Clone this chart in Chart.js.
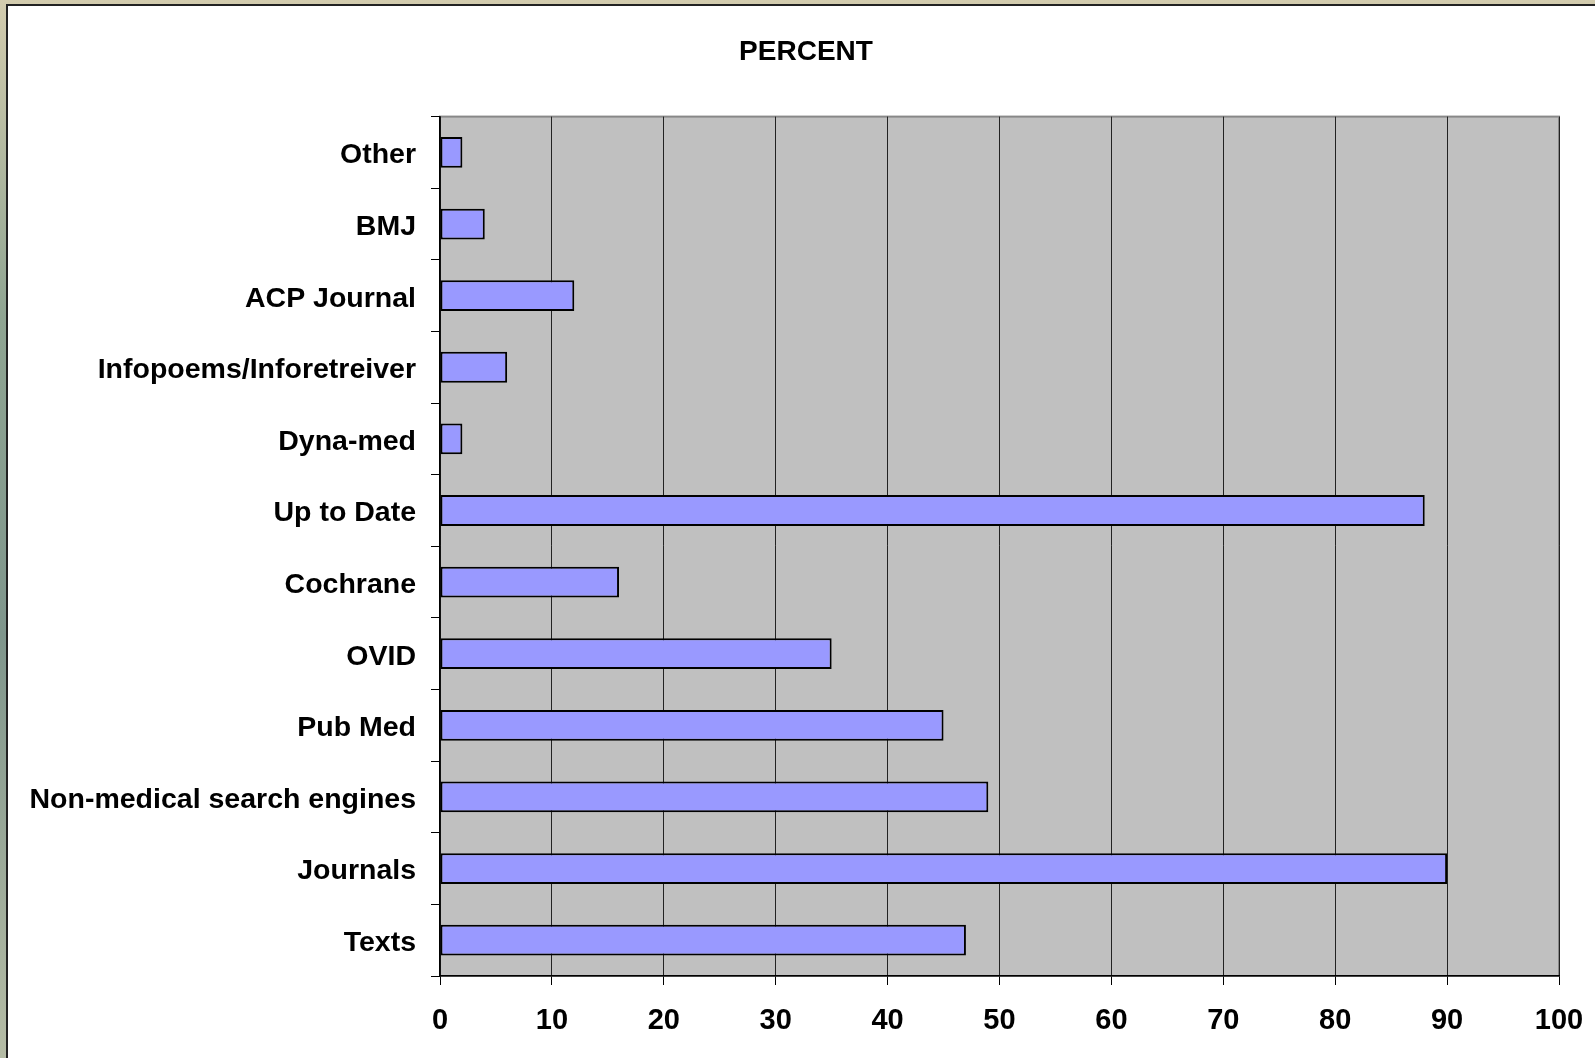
<!DOCTYPE html>
<html>
<head>
<meta charset="utf-8">
<script src="https://cdn.jsdelivr.net/npm/chart.js@4"></script>
<style>
    html, body {
        margin: 0;
        padding: 0;
        width: 1595px;
        height: 1058px;
        overflow: hidden;
        background: linear-gradient(180deg, #d3ccae 0%, #8fa592 30%, #7f968c 60%, #b5bca5 100%);
    }
    #frame {
        position: absolute;
        left: 6px;
        top: 4px;
        width: 1600px;
        height: 1060px;
        background: #fff;
        border-left: 2px solid #222;
        border-top: 2px solid #222;
    }
    #wrap {
        position: absolute;
        left: 0;
        top: 0;
        width: 1595px;
        height: 1058px;
    }
</style>
</head>
<body>
<div id="frame"></div>
<div id="wrap"><canvas id="chart"></canvas></div>
<script>
// Данные (сверху вниз)
const categories = ['Other', 'BMJ', 'ACP Journal', 'Infopoems/Inforetreiver', 'Dyna-med', 'Up to Date',
    'Cochrane', 'OVID', 'Pub Med', 'Non-medical search engines', 'Journals', 'Texts'];
const percentValues = [2, 4, 12, 6, 2, 88, 16, 35, 45, 49, 90, 47];
const xTicks = [0, 10, 20, 30, 40, 50, 60, 70, 80, 90, 100];

const FONT = 'Liberation Sans, Arial, sans-serif';

// Серый фон области графика с рамкой
const plotBackground = {
    id: 'plotBackground',
    afterLayout(chart) {
        // подписи оси Y не должны обрезаться по левому отступу
        chart.scales.y.left = 0;
    },
    beforeDraw(chart) {
        const { ctx, chartArea: a } = chart;
        ctx.save();
        ctx.fillStyle = '#c0c0c0';
        ctx.fillRect(a.left, a.top, a.right - a.left, a.bottom - a.top);
        ctx.strokeStyle = '#888';
        ctx.lineWidth = 2;
        ctx.strokeRect(a.left, a.top, a.right - a.left, a.bottom - a.top);
        ctx.restore();
    }
};

const ctx = document.getElementById('chart').getContext('2d');
new Chart(ctx, {
    type: 'bar',
    data: {
        labels: categories,
        datasets: [{
            label: 'PERCENT',
            data: percentValues,
            backgroundColor: '#9999ff',
            borderColor: '#000',
            borderWidth: 2,
            borderSkipped: false,
            barPercentage: 0.43,
            categoryPercentage: 1
        }]
    },
    options: {
        indexAxis: 'y',
        responsive: true,
        maintainAspectRatio: false,
        animation: false,
        layout: { padding: { left: 53, right: 36, top: 0, bottom: 0 } },
        plugins: {
            legend: { display: false },
            tooltip: { enabled: false },
            title: {
                display: true,
                text: 'PERCENT',
                color: '#000',
                font: { family: FONT, size: 28, weight: 'bold', lineHeight: 1.2 },
                padding: { top: 35, bottom: 48 }
            }
        },
        scales: {
            x: {
                min: 0,
                max: 100,
                afterBuildTicks: (scale) => { scale.ticks = xTicks.map(v => ({ value: v })); },
                afterFit: (scale) => {
                    scale.height = 82;
                    scale.paddingLeft = 0;
                    scale.paddingRight = 0;
                },
                grid: {
                    color: '#222',
                    lineWidth: 1,
                    tickColor: '#000',
                    tickLength: 9
                },
                border: { color: '#000', width: 1.5 },
                ticks: {
                    color: '#000',
                    padding: 19,
                    maxRotation: 0,
                    font: { family: FONT, size: 29, weight: 'bold' }
                }
            },
            y: {
                afterFit: (scale) => { scale.width = 387; },
                grid: {
                    offset: true,
                    drawOnChartArea: false,
                    tickColor: '#000',
                    tickLength: 9
                },
                border: { color: '#000', width: 1.5 },
                ticks: {
                    color: '#000',
                    padding: 15,
                    labelOffset: 3,
                    font: { family: FONT, size: 28.5, weight: 'bold' }
                }
            }
        }
    },
    plugins: [plotBackground]
});
</script>
</body>
</html>
